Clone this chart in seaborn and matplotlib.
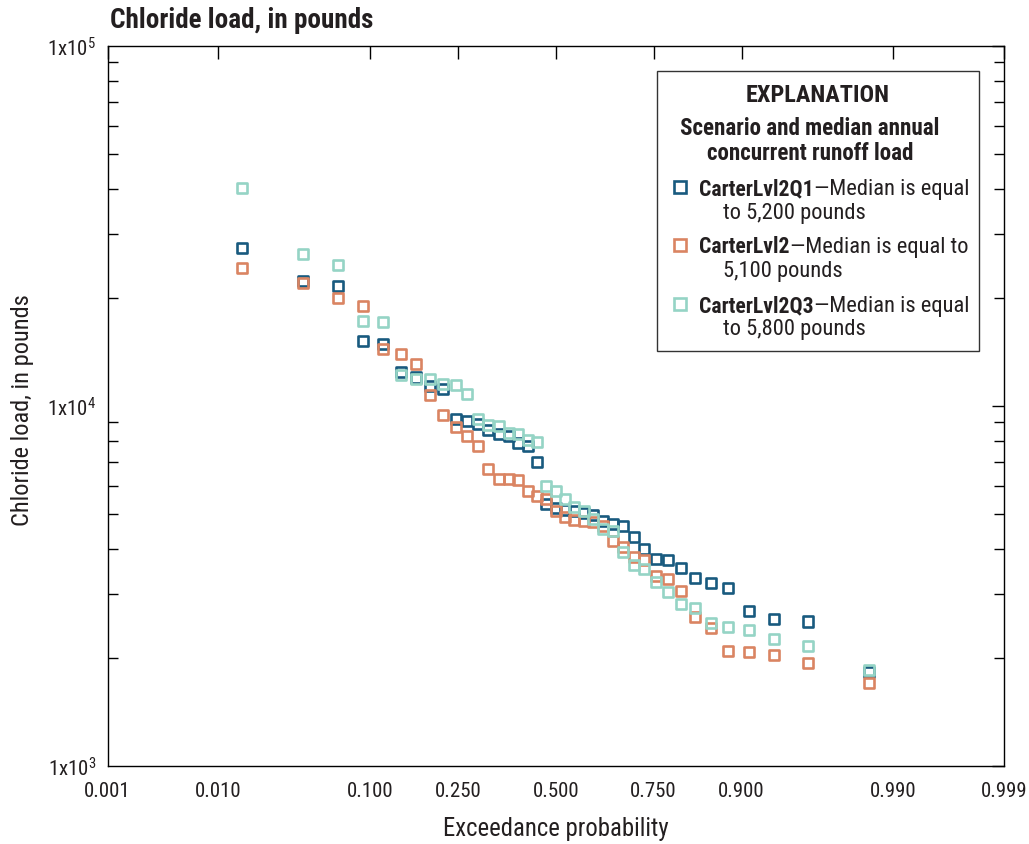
import math
import numpy as np
import pandas as pd
import matplotlib
matplotlib.use("Agg")
import matplotlib.pyplot as plt
from matplotlib import font_manager as fm
from matplotlib.patches import Rectangle
from matplotlib.lines import Line2D
from matplotlib.ticker import FixedLocator, FuncFormatter, LogLocator, NullFormatter
import seaborn as sns

# ---------------- data ----------------
exceedance_prob = [0.0153, 0.0408, 0.0663, 0.0918, 0.1173, 0.1429, 0.1684, 0.1939,
                   0.2194, 0.2449, 0.2704, 0.2959, 0.3214, 0.3469, 0.3724, 0.3980,
                   0.4235, 0.4490, 0.4745, 0.5000, 0.5255, 0.5510, 0.5765, 0.6020,
                   0.6276, 0.6531, 0.6786, 0.7041, 0.7296, 0.7551, 0.7806, 0.8061,
                   0.8316, 0.8571, 0.8827, 0.9082, 0.9337, 0.9592, 0.9847]

load_q1 = [27400, 22300, 21500, 15200, 14900, 12400, 12000, 11400, 11150, 9200,
           9100, 8900, 8600, 8360, 8280, 7900, 7720, 6970, 5340, 5200,
           5140, 5110, 5050, 4980, 4800, 4700, 4650, 4320, 4010, 3770,
           3740, 3540, 3320, 3220, 3120, 2700, 2560, 2520, 1820]

load_l2 = [24100, 22000, 20000, 18900, 14400, 13950, 13080, 10730, 9440, 8750,
           8250, 7740, 6680, 6270, 6250, 6210, 5800, 5640, 5520, 5100,
           4920, 4820, 4790, 4750, 4640, 4230, 4050, 3800, 3740, 3380,
           3310, 3070, 2590, 2410, 2090, 2070, 2040, 1930, 1700]

load_q3 = [40200, 26400, 24600, 17200, 17100, 12200, 11900, 11850, 11500, 11470,
           10800, 9230, 8880, 8800, 8410, 8360, 8050, 7960, 6000, 5800,
           5520, 5240, 5120, 4860, 4550, 4500, 3920, 3620, 3530, 3250,
           3040, 2810, 2750, 2500, 2440, 2390, 2250, 2160, 1850]

scenarios = ["CarterLvl2Q1", "CarterLvl2", "CarterLvl2Q3"]
medians = ["5,200", "5,100", "5,800"]
x_ticks = [0.001, 0.010, 0.100, 0.250, 0.500, 0.750, 0.900, 0.990, 0.999]
x_tick_labels = ["0.001", "0.010", "0.100", "0.250", "0.500", "0.750", "0.900", "0.990", "0.999"]
y_major = [1e3, 1e4, 1e5]

colors = {"CarterLvl2Q1": "#185a7f", "CarterLvl2": "#da8462", "CarterLvl2Q3": "#95d4c5"}

df = pd.DataFrame({
    "prob": exceedance_prob * 3,
    "load": load_q1 + load_l2 + load_q3,
    "scenario": [s for s in scenarios for _ in exceedance_prob],
})

# ---------------- normal probability scale ----------------
_a = [-3.969683028665376e+01, 2.209460984245205e+02, -2.759285104469687e+02,
      1.383577518672690e+02, -3.066479806614716e+01, 2.506628277459239e+00]
_b = [-5.447609879822406e+01, 1.615858368580409e+02, -1.556989798598866e+02,
      6.680131188771972e+01, -1.328068155288572e+01]
_c = [-7.784894002430293e-03, -3.223964580411365e-01, -2.400758277161838e+00,
      -2.549732539343734e+00, 4.374664141464968e+00, 2.938163982698783e+00]
_d = [7.784695709041462e-03, 3.224671290700398e-01, 2.445134137142996e+00,
      3.754408661907416e+00]


def _ppf(p):
    p = np.clip(np.asarray(p, dtype=float), 1e-12, 1 - 1e-12)
    out = np.empty_like(p)
    plow = 0.02425
    with np.errstate(all="ignore"):
        lo = p < plow
        hi = p > 1 - plow
        mid = ~(lo | hi)
        q = np.sqrt(-2 * np.log(p[lo]))
        out[lo] = (((((_c[0]*q+_c[1])*q+_c[2])*q+_c[3])*q+_c[4])*q+_c[5]) / \
                  ((((_d[0]*q+_d[1])*q+_d[2])*q+_d[3])*q+1)
        q = np.sqrt(-2 * np.log(1 - p[hi]))
        out[hi] = -(((((_c[0]*q+_c[1])*q+_c[2])*q+_c[3])*q+_c[4])*q+_c[5]) / \
                   ((((_d[0]*q+_d[1])*q+_d[2])*q+_d[3])*q+1)
        q = p[mid] - 0.5
        r = q * q
        out[mid] = (((((_a[0]*r+_a[1])*r+_a[2])*r+_a[3])*r+_a[4])*r+_a[5])*q / \
                   (((((_b[0]*r+_b[1])*r+_b[2])*r+_b[3])*r+_b[4])*r+1)
    return out


_cdf_v = np.vectorize(lambda z: 0.5 * (1 + math.erf(z / math.sqrt(2))))


def _cdf(z):
    return _cdf_v(np.asarray(z, dtype=float))


# ---------------- font choice: prefer a condensed face ----------------
def pick_font():
    entries = fm.fontManager.ttflist
    names = {f.name for f in entries}
    for fam in ["Liberation Sans Narrow", "Roboto Condensed", "Open Sans Condensed",
                "Noto Sans Condensed", "DejaVu Sans Condensed", "Arial Narrow"]:
        if fam in names:
            return fam, "normal", 1.0
    for fam in ["Roboto", "Noto Sans", "Open Sans", "DejaVu Sans"]:
        for f in entries:
            if f.name == fam and str(f.stretch) in ("condensed", "semi-condensed",
                                                    "extra-condensed", "75", "87", "62"):
                return fam, str(f.stretch), 1.0
    return "Liberation Sans", "normal", 0.86


FAMILY, STRETCH, SC = pick_font()

sns.set_theme(style="white")
plt.rcParams["font.family"] = [FAMILY, "DejaVu Sans"]
plt.rcParams["font.stretch"] = STRETCH
plt.rcParams["mathtext.fontset"] = "custom"
plt.rcParams["mathtext.rm"] = f"{FAMILY}:stretch={STRETCH}" if STRETCH != "normal" else FAMILY
plt.rcParams["mathtext.it"] = plt.rcParams["mathtext.rm"] + ":italic"
plt.rcParams["mathtext.bf"] = plt.rcParams["mathtext.rm"] + ":bold"

TXT = "#231f20"
W, H = 1029, 845
fig = plt.figure(figsize=(W / 100, H / 100), dpi=100)
fig.patch.set_facecolor("white")
ax = fig.add_axes([107.5 / W, 78 / H, (1004 - 107.5) / W, 720 / H])
ax.set_facecolor("white")

for name in scenarios:
    sub = df[df["scenario"] == name]
    sns.scatterplot(data=sub, x="prob", y="load", marker="s", s=52,
                    color=colors[name], facecolor="none", edgecolor=colors[name],
                    linewidth=1.9, ax=ax, legend=False, zorder=3)

ax.set_xscale("function", functions=(_ppf, _cdf))
ax.set_yscale("log")
ax.set_xlim(0.001, 0.999)
ax.set_ylim(1e3, 1e5)

ax.xaxis.set_major_locator(FixedLocator(x_ticks))
ax.xaxis.set_major_formatter(FuncFormatter(
    lambda v, pos: x_tick_labels[pos] if pos is not None and pos < len(x_tick_labels) else ""))
ax.xaxis.set_minor_locator(FixedLocator([]))
ax.yaxis.set_major_locator(FixedLocator(y_major))
ax.yaxis.set_major_formatter(FuncFormatter(lambda v, pos: r"1x10$^{%d}$" % int(round(np.log10(v)))))
ax.yaxis.set_minor_locator(LogLocator(base=10, subs=np.arange(2, 10)))
ax.yaxis.set_minor_formatter(NullFormatter())

ax.tick_params(axis="both", which="major", direction="in", length=9, width=1.0,
               color="black", top=True, right=True, labelsize=15 * SC, labelcolor=TXT)
ax.tick_params(axis="y", which="minor", direction="in", length=7, width=1.0,
               color="black", left=True, right=True)
ax.tick_params(axis="x", which="major", pad=11)
ax.tick_params(axis="y", which="major", pad=8)
for sp in ax.spines.values():
    sp.set_color("black")
    sp.set_linewidth(1.0)
    sp.set_visible(True)
ax.grid(False)

ax.set_xlabel("Exceedance probability", fontsize=17.8 * SC, color=TXT, va="center")
ax.xaxis.set_label_coords(0.5, -(829 - 767) / 720)
ax.set_ylabel("Chloride load, in pounds", fontsize=17.6 * SC, color=TXT, ha="center", va="center")
ax.yaxis.set_label_coords((23 - 107.5) / 896.5, 0.495)

fig.text(110 / W, 1 - 20 / H, "Chloride load, in pounds", fontsize=19.5 * SC,
         fontweight="bold", ha="left", va="center", color=TXT)

# ---------------- explanation box ----------------
x0, x1 = (657 - 107.5) / 896.5, (979 - 107.5) / 896.5
y0, y1 = (767 - 352) / 720, (767 - 72) / 720
ax.add_patch(Rectangle((x0, y0), x1 - x0, y1 - y0, transform=ax.transAxes,
                       facecolor="white", edgecolor="#333333", linewidth=1.0, zorder=5))


def fx(px):
    return px / W


def fy(py):
    return 1 - py / H


LEG = 16.6 * SC
ENT_B = 15.6 * SC
ENT_R = 16.2 * SC
fig.text(fx(818), fy(95), "EXPLANATION", fontsize=17.5 * SC, fontweight="bold",
         ha="center", va="center", color=TXT, zorder=6)
fig.text(fx(810), fy(129), "Scenario and median annual", fontsize=LEG, fontweight="bold",
         ha="center", va="center", color=TXT, zorder=6)
fig.text(fx(810), fy(153), "concurrent runoff load", fontsize=LEG, fontweight="bold",
         ha="center", va="center", color=TXT, zorder=6)

fig.canvas.draw()
renderer = fig.canvas.get_renderer()

entry_rows = [188, 246, 305]
first_tail = ["\u2014Median is equal", "\u2014Median is equal to", "\u2014Median is equal"]
second_line = ["to {} pounds", "{} pounds", "to {} pounds"]
for name, med, yc, tail, sec in zip(scenarios, medians, entry_rows, first_tail, second_line):
    fig.add_artist(Line2D([fx(679.5)], [fy(yc)], marker="s", markersize=8.6,
                          markerfacecolor="none", markeredgecolor=colors[name],
                          markeredgewidth=1.9, linestyle="none", zorder=7))
    base = yc + 7.0
    tb = fig.text(fx(699), fy(base), name, fontsize=ENT_B, fontweight="bold",
                  ha="left", va="baseline", color=TXT, zorder=6)
    bb = tb.get_window_extent(renderer=renderer)
    fig.text(bb.x1 / W, fy(base), tail, fontsize=ENT_R, ha="left", va="baseline",
             color=TXT, zorder=6)
    fig.text(fx(723), fy(base + 23.5), sec.format(med), fontsize=ENT_R, ha="left",
             va="baseline", color=TXT, zorder=6)

fig.savefig("out.png", dpi=100, facecolor="white")
